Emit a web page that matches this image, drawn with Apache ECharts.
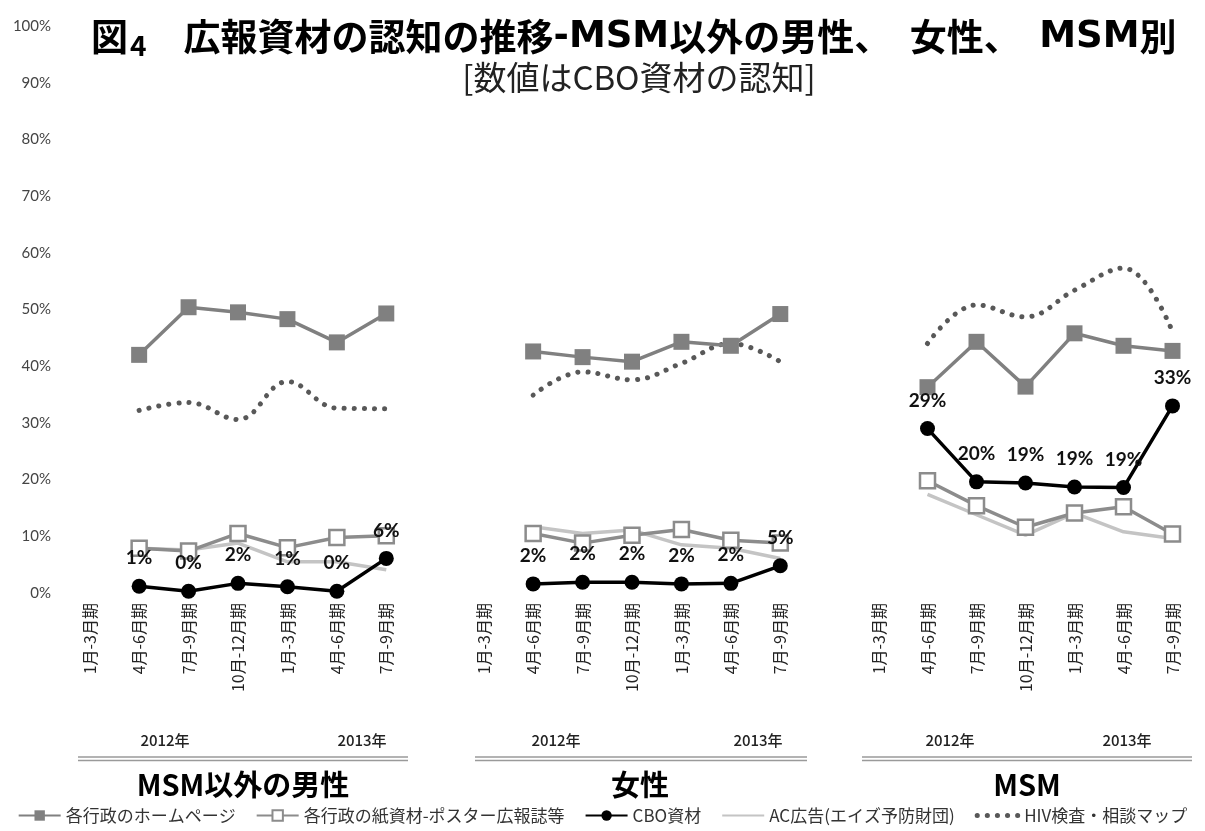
<!DOCTYPE html>
<html>
<head>
<meta charset="utf-8">
<script src="https://cdn.jsdelivr.net/npm/echarts@6/dist/echarts.min.js"></script>
<style>
html,body{margin:0;padding:0;background:#fff;}
#chart{width:1205px;height:831px;}
</style>
</head>
<body>
<div id="chart"></div>
<script>
// ---- Data ----
const categories = ['1月-3月期','4月-6月期','7月-9月期','10月-12月期','1月-3月期','4月-6月期','7月-9月期'];
const panelNames = ['MSM以外の男性','女性','MSM'];
const yearLabels = ['2012年','2013年'];
const seriesNames = ['各行政のホームページ','各行政の紙資材-ポスター広報誌等','CBO資材','AC広告(エイズ予防財団)','HIV検査・相談マップ'];

// MSM以外の男性
const p1Homepage = [null, 42.0, 50.4, 49.5, 48.3, 44.2, 49.3];
const p1Paper    = [null, 7.9, 7.4, 10.5, 8.0, 9.8, 10.1];
const p1CBO      = [null, 1.2, 0.3, 1.7, 1.1, 0.3, 6.1];
const p1AC       = [null, 7.9, 7.6, 8.8, 5.5, 5.5, 4.1];
const p1HIV      = [null, 32.2, 33.6, 30.6, 37.3, 32.6, 32.5];
// 女性
const p2Homepage = [null, 42.6, 41.6, 40.8, 44.3, 43.6, 49.2];
const p2Paper    = [null, 10.5, 8.8, 10.2, 11.2, 9.3, 8.8];
const p2CBO      = [null, 1.6, 1.9, 1.9, 1.6, 1.7, 4.8];
const p2AC       = [null, 11.7, 10.5, 11.1, 8.5, 7.9, 6.1];
const p2HIV      = [null, 34.9, 39.0, 37.6, 40.5, 44.0, 40.8];
// MSM
const p3Homepage = [null, 36.3, 44.3, 36.4, 45.8, 43.6, 42.7];
const p3Paper    = [null, 19.8, 15.4, 11.6, 14.1, 15.2, 10.4];
const p3CBO      = [null, 29.0, 19.6, 19.4, 18.7, 18.6, 33.0];
const p3AC       = [null, 17.4, 13.8, 10.2, 14.1, 10.8, 9.6];
const p3HIV      = [null, 44.0, 50.8, 48.7, 53.4, 57.3, 46.1];

const panels = [
  [p1Homepage, p1Paper, p1CBO, p1AC, p1HIV],
  [p2Homepage, p2Paper, p2CBO, p2AC, p2HIV],
  [p3Homepage, p3Paper, p3CBO, p3AC, p3HIV]
];

// ---- Layout ----
const grids = [
  {left: 65, width: 346, top: 26, bottom: 238},
  {left: 459, width: 346, top: 26, bottom: 238},
  {left: 854, width: 343, top: 26, bottom: 238}
];
const FONT = '"Noto Sans CJK JP", "Noto Sans", sans-serif';
const LATIN = '"DejaVu Sans", sans-serif';
const TRANSPARENT = 'rgba(0,0,0,0)';
const HIV_LINE = {color: '#585858', width: 5, type: [0.1, 10], cap: 'round'};

const chart = echarts.init(document.getElementById('chart'));

const xAxes = grids.map((g, i) => ({
  type: 'category', gridIndex: i, data: categories, boundaryGap: true,
  axisLine: {show: false}, axisTick: {show: false},
  axisLabel: {rotate: 90, fontSize: 16, color: '#222', margin: 10, fontFamily: FONT, interval: 0}
}));
const yAxes = grids.map((g, i) => ({
  type: 'value', gridIndex: i, min: 0, max: 100, interval: 10,
  splitLine: {show: false}, axisLine: {show: false}, axisTick: {show: false},
  axisLabel: {show: i === 0, formatter: '{value}%', fontSize: 15, color: '#444', margin: 14, fontFamily: 'Lato, sans-serif'}
}));

const series = [];
panels.forEach((d, i) => {
  series.push({
    name: seriesNames[0], type: 'line', xAxisIndex: i, yAxisIndex: i, data: d[0],
    symbol: 'rect', symbolSize: 16, lineStyle: {color: '#808080', width: 3.5},
    itemStyle: {color: '#808080'}, z: 3
  });
  series.push({
    name: seriesNames[3], type: 'line', xAxisIndex: i, yAxisIndex: i, data: d[3],
    symbol: 'none', lineStyle: {color: '#c4c4c4', width: 3.5}, itemStyle: {color: TRANSPARENT}, z: 2
  });
  series.push({
    name: seriesNames[1], type: 'line', xAxisIndex: i, yAxisIndex: i, data: d[1],
    symbol: 'rect', symbolSize: 15, lineStyle: {color: '#8c8c8c', width: 3.5},
    itemStyle: {color: '#fff', borderColor: '#8c8c8c', borderWidth: 2.5}, z: 3
  });
  series.push({
    name: seriesNames[2], type: 'line', xAxisIndex: i, yAxisIndex: i, data: d[2],
    symbol: 'circle', symbolSize: 15, lineStyle: {color: '#000', width: 3.5},
    itemStyle: {color: '#000'}, z: 5,
    label: {show: true, position: 'top', distance: 11, fontSize: 19, fontWeight: 'bold',
      color: '#111', fontFamily: 'Lato, sans-serif',
      formatter: p => Math.round(p.value) + '%'}
  });
  series.push({
    name: seriesNames[4], type: 'line', xAxisIndex: i, yAxisIndex: i, data: d[4],
    symbol: 'none', smooth: 0.4,
    lineStyle: HIV_LINE,
    itemStyle: {color: TRANSPARENT}, z: 2
  });
});

const graphics = [];
const yearPos = [[165, 362], [556, 758], [950, 1127]];
const linePos = [[78, 408], [475, 807], [862, 1192]];
const titlePos = [243, 640, 1027];
for (let i = 0; i < 3; i++) {
  yearPos[i].forEach((x, k) => graphics.push({
    type: 'text', x: x, y: 740, style: {text: yearLabels[k], font: '500 15px ' + FONT, fill: '#222', align: 'center', verticalAlign: 'middle'}
  }));
  graphics.push({type: 'line', shape: {x1: linePos[i][0], y1: 757, x2: linePos[i][1], y2: 757}, style: {stroke: '#9a9a9a', lineWidth: 1.5}});
  graphics.push({type: 'line', shape: {x1: linePos[i][0], y1: 760.5, x2: linePos[i][1], y2: 760.5}, style: {stroke: '#9a9a9a', lineWidth: 1.5}});
  graphics.push({
    type: 'text', x: titlePos[i], y: 785, style: {text: panelNames[i], font: 'bold 29px ' + FONT, fill: '#000', align: 'center', verticalAlign: 'middle'}
  });
}

const legendData = seriesNames.map((n, k) => k === 4
  ? {name: n, lineStyle: {width: 5, type: [0.1, 10], cap: 'round', color: '#585858'}}
  : {name: n});

chart.setOption({
  backgroundColor: '#fff',
  animation: false,
  title: [
    {
      text: '{a|図}{b|4}{a|　}{a|広報資材の認知の推移}{m|-MSM}{a|以外の男性、　女性、　}{m|MSM}{a|別}',
      left: 86, top: 10,
      textStyle: {
        rich: {
          a: {fontSize: 37, fontWeight: 'bold', color: '#000', fontFamily: FONT},
          m: {fontSize: 37, fontWeight: 'bold', color: '#000', fontFamily: LATIN},
          b: {fontSize: 28, fontWeight: 'bold', color: '#000', fontFamily: FONT, padding: [16, 0, 0, 2]}
        }
      }
    },
    {
      text: '[数値はCBO資材の認知]', left: 634, textAlign: 'center', top: 56,
      textStyle: {fontSize: 33, fontWeight: 'normal', color: '#222', fontFamily: FONT}
    }
  ],
  legend: {
    data: legendData, bottom: 2, left: 'center', itemWidth: 42, itemHeight: 13, itemGap: 20,
    textStyle: {fontSize: 17, color: '#333', fontFamily: FONT}
  },
  grid: grids,
  xAxis: xAxes,
  yAxis: yAxes,
  series: series,
  graphic: graphics
});
</script>
</body>
</html>
